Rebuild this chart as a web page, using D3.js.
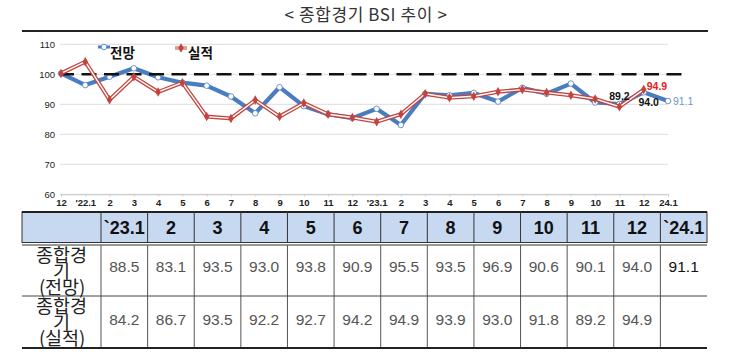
<!DOCTYPE html>
<html><head><meta charset="utf-8">
<script src="https://cdn.jsdelivr.net/npm/d3@7/dist/d3.min.js"></script>
<style>
@font-face{font-family:'KRTight';src:local('Noto Sans CJK KR'),local('Noto Sans CJK KR Regular'),local('NotoSansCJKkr-Regular'),local('NotoSansCJKKR-Regular');ascent-override:84%;descent-override:12%;line-gap-override:0%;}
html,body{margin:0;padding:0;background:#fff;}
#wrap{position:relative;width:730px;height:354px;}
svg{display:block;position:absolute;left:0;top:0;}
.rowlab{position:absolute;width:70px;text-align:center;font-family:'KRTight','Noto Sans CJK KR';font-size:18.5px;line-height:16px;color:#222;white-space:pre-line;}
</style></head>
<body>
<div id="wrap"></div>
<script>
const xLabels = ["12","'22.1","2","3","4","5","6","7","8","9","10","11","12","'23.1","2","3","4","5","6","7","8","9","10","11","12","24.1"];
const forecast = [100.3, 96.4, 99.2, 102.0, 99.0, 97.2, 96.2, 92.6, 87.0, 95.7, 89.4, 86.7, 85.4, 88.5, 83.1, 93.5, 93.0, 93.8, 90.9, 95.5, 93.5, 96.9, 90.6, 90.1, 94.0, 91.1];
const actual = [100.3, 104.2, 91.5, 99.2, 94.1, 97.2, 85.9, 85.3, 91.4, 85.9, 90.4, 86.7, 85.6, 84.2, 86.7, 93.5, 92.2, 92.7, 94.2, 94.9, 93.9, 93.0, 91.8, 89.2, 94.9];
const yTicks = [60, 70, 80, 90, 100, 110];
const baseline = 100;
const seriesNames = ["전망", "실적"];
const title = "< 종합경기 BSI 추이 >";

const tableHeaders = ["`23.1","2","3","4","5","6","7","8","9","10","11","12","`24.1"];
const tableForecast = ["88.5","83.1","93.5","93.0","93.8","90.9","95.5","93.5","96.9","90.6","90.1","94.0","91.1"];
const tableActual = ["84.2","86.7","93.5","92.2","92.7","94.2","94.9","93.9","93.0","91.8","89.2","94.9",""];
const rowLabels = ["종합경\n기\n(전망)", "종합경\n기\n(실적)"];

const W = 730, H = 354;
const blue = "#4a7cc0", red = "#c3443f";
const wrap = d3.select("#wrap");
const svg = wrap.append("svg").attr("width", W).attr("height", H);

// Title
svg.append("text").attr("x", 366).attr("y", 21).attr("text-anchor", "middle")
  .attr("font-family", "'Noto Sans CJK KR'").attr("font-size", 17).attr("letter-spacing", 0.6).attr("fill", "#333")
  .text(title);

// Top frame line
svg.append("line").attr("x1", 22).attr("x2", 708).attr("y1", 31).attr("y2", 31)
  .attr("stroke", "#222").attr("stroke-width", 2);

const idx = d3.range(xLabels.length);
const x = d3.scalePoint().domain(idx).range([61, 668]);
const y = d3.scaleLinear().domain([60, 110]).range([194.3, 44.3]);

// Gridlines
svg.append("g").selectAll("line").data(yTicks).join("line")
  .attr("x1", 60).attr("x2", 668).attr("y1", d => y(d)).attr("y2", d => y(d))
  .attr("stroke", "#dcdcdc").attr("stroke-width", 1);

// Y axis labels
const yAxis = svg.append("g").attr("transform", "translate(57,0)")
  .call(d3.axisLeft(y).tickValues(yTicks).tickSize(0).tickPadding(2));
yAxis.select(".domain").remove();
yAxis.selectAll("text").attr("font-family", "'Liberation Sans'").attr("font-size", 9.5).attr("fill", "#222");

// X axis
const xAxis = svg.append("g").attr("transform", `translate(0,${y(60)})`)
  .call(d3.axisBottom(x).tickFormat(i => xLabels[i]).tickSize(2).tickPadding(3));
xAxis.select(".domain").attr("stroke", "#c8c8c8");
xAxis.selectAll(".tick line").attr("stroke", "#c8c8c8");
xAxis.selectAll("text").attr("font-family", "'Liberation Sans'").attr("font-size", 9.5).attr("font-weight", "bold").attr("fill", "#222");

// Forecast line
const line = d3.line().x((d, i) => x(i)).y(d => y(d));
svg.append("path").datum(forecast).attr("d", line).attr("fill", "none")
  .attr("stroke", blue).attr("stroke-width", 4.2).attr("stroke-linejoin", "round");
svg.append("g").selectAll("circle").data(forecast).join("circle")
  .attr("cx", (d, i) => x(i)).attr("cy", d => y(d)).attr("r", 2.8)
  .attr("fill", "#fff").attr("stroke", blue).attr("stroke-width", 0.8);

// Baseline dashed
const step = x.step();
svg.append("line").attr("x1", x(0) - 2).attr("x2", x(idx.length - 1) + step * 0.58)
  .attr("y1", y(baseline)).attr("y2", y(baseline))
  .attr("stroke", "#111").attr("stroke-width", 2.6).attr("stroke-dasharray", "15,7.5");

// Actual line (double)
svg.append("path").datum(actual).attr("d", line).attr("fill", "none")
  .attr("stroke", red).attr("stroke-width", 4).attr("stroke-linejoin", "miter");
svg.append("path").datum(actual).attr("d", line).attr("fill", "none")
  .attr("stroke", "#fff").attr("stroke-width", 1.4).attr("stroke-linejoin", "miter");
const diamond = d3.symbol().type(d3.symbolDiamond).size(26);
svg.append("g").selectAll("path").data(actual).join("path")
  .attr("transform", (d, i) => `translate(${x(i)},${y(d)})`).attr("d", diamond).attr("fill", red);

// Legend
const lg = svg.append("g").attr("font-family", "'Noto Sans CJK KR'").attr("font-size", 13.5).attr("font-weight", "bold").attr("fill", "#111");
lg.append("line").attr("x1", 98).attr("x2", 110).attr("y1", 47).attr("y2", 47).attr("stroke", blue).attr("stroke-width", 3);
lg.append("circle").attr("cx", 104).attr("cy", 47).attr("r", 2.8).attr("fill", "#fff").attr("stroke", blue).attr("stroke-width", 0.8);
lg.append("text").attr("x", 110).attr("y", 58).text(seriesNames[0]);
lg.append("line").attr("x1", 175).attr("x2", 187).attr("y1", 48).attr("y2", 48).attr("stroke", red).attr("stroke-width", 3);
lg.append("line").attr("x1", 175).attr("x2", 187).attr("y1", 48).attr("y2", 48).attr("stroke", "#fff").attr("stroke-width", 1);
lg.append("path").attr("transform", "translate(181,48)").attr("d", diamond).attr("fill", red);
lg.append("text").attr("x", 188).attr("y", 58).text(seriesNames[1]);

// Annotations
const ann = svg.append("g").attr("font-family", "'Liberation Sans'").attr("font-size", 10.5).attr("font-weight", "bold");
const iNov = 23, iDec = 24, iJan = 25;
ann.append("text").attr("x", x(iNov)).attr("y", y(actual[iNov]) - 6.5).attr("text-anchor", "middle").attr("fill", "#111").text(actual[iNov].toFixed(1));
ann.append("text").attr("x", x(iDec) + 5).attr("y", y(forecast[iDec]) + 14).attr("text-anchor", "middle").attr("fill", "#111").text(forecast[iDec].toFixed(1));
ann.append("text").attr("x", x(iDec) + 3).attr("y", y(actual[iDec]) + 0.5).attr("fill", "#e8201c").text(actual[iDec].toFixed(1));
ann.append("text").attr("x", x(iJan) + 5).attr("y", y(forecast[iJan]) + 3.5).attr("fill", "#6f95c8").attr("font-weight", "normal").text(forecast[iJan].toFixed(1));

// Table
const tLeft = 22, tRight = 707, c0 = 101;
const hTop = 212, hBot = 242.5, r1Top = 245, r1Bot = 296, r2Bot = 348;
const col = d3.scaleBand().domain(d3.range(tableHeaders.length)).range([c0, tRight]);
const tg = svg.append("g");
tg.append("rect").attr("x", tLeft).attr("y", hTop).attr("width", tRight - tLeft).attr("height", hBot - hTop).attr("fill", "#c6d9f1");
tg.append("rect").attr("x", tLeft).attr("y", hTop).attr("width", tRight - tLeft).attr("height", hBot - hTop)
  .attr("fill", "none").attr("stroke", "#333").attr("stroke-width", 1);
tg.append("line").attr("x1", tLeft).attr("x2", tRight).attr("y1", hTop).attr("y2", hTop).attr("stroke", "#222").attr("stroke-width", 2);
tg.append("line").attr("x1", tLeft).attr("x2", tRight).attr("y1", hBot + 2.5).attr("y2", hBot + 2.5).attr("stroke", "#999").attr("stroke-width", 2);
const vx = [c0].concat(d3.range(1, tableHeaders.length).map(i => col(i)));
tg.append("g").selectAll("line").data(vx).join("line")
  .attr("x1", d => d).attr("x2", d => d).attr("y1", hTop).attr("y2", hBot)
  .attr("stroke", "#333").attr("stroke-width", 1);
tg.append("g").selectAll("line").data(vx).join("line")
  .attr("x1", d => d).attr("x2", d => d).attr("y1", r1Top).attr("y2", r2Bot)
  .attr("stroke", "#555").attr("stroke-width", 1);
tg.append("line").attr("x1", tLeft).attr("x2", tRight).attr("y1", r1Bot).attr("y2", r1Bot).attr("stroke", "#444").attr("stroke-width", 1);
tg.append("line").attr("x1", tLeft).attr("x2", tRight).attr("y1", r2Bot).attr("y2", r2Bot).attr("stroke", "#222").attr("stroke-width", 2);

tg.append("g").selectAll("text").data(tableHeaders).join("text")
  .attr("x", (d, i) => col(i) + col.bandwidth() / 2).attr("y", 233.5).attr("text-anchor", "middle")
  .attr("font-family", "'Liberation Sans'").attr("font-size", 18).attr("font-weight", "bold").attr("fill", "#111")
  .text(d => d);

const rows = [tableForecast, tableActual];
const rowBase = [272, 325];
rows.forEach((vals, r) => {
  tg.append("g").selectAll("text").data(vals).join("text")
    .attr("x", (d, i) => col(i) + col.bandwidth() / 2).attr("y", rowBase[r]).attr("text-anchor", "middle")
    .attr("font-family", "'Liberation Sans'").attr("font-size", 15.5)
    .attr("fill", (d, i) => i === vals.length - 1 ? "#111" : "#555")
    .text(d => d);
});

// Row labels: wrapped HTML text blocks in the first column
const rowMid = [(r1Top + r1Bot) / 2, (r1Bot + r2Bot) / 2];
rowLabels.forEach((s, r) => {
  const div = wrap.append("div").attr("class", "rowlab").text(s);
  const h = div.node().getBoundingClientRect().height;
  div.style("left", ((tLeft + c0) / 2 - 35) + "px").style("top", (rowMid[r] - h / 2) + "px");
});
</script>
</body></html>
